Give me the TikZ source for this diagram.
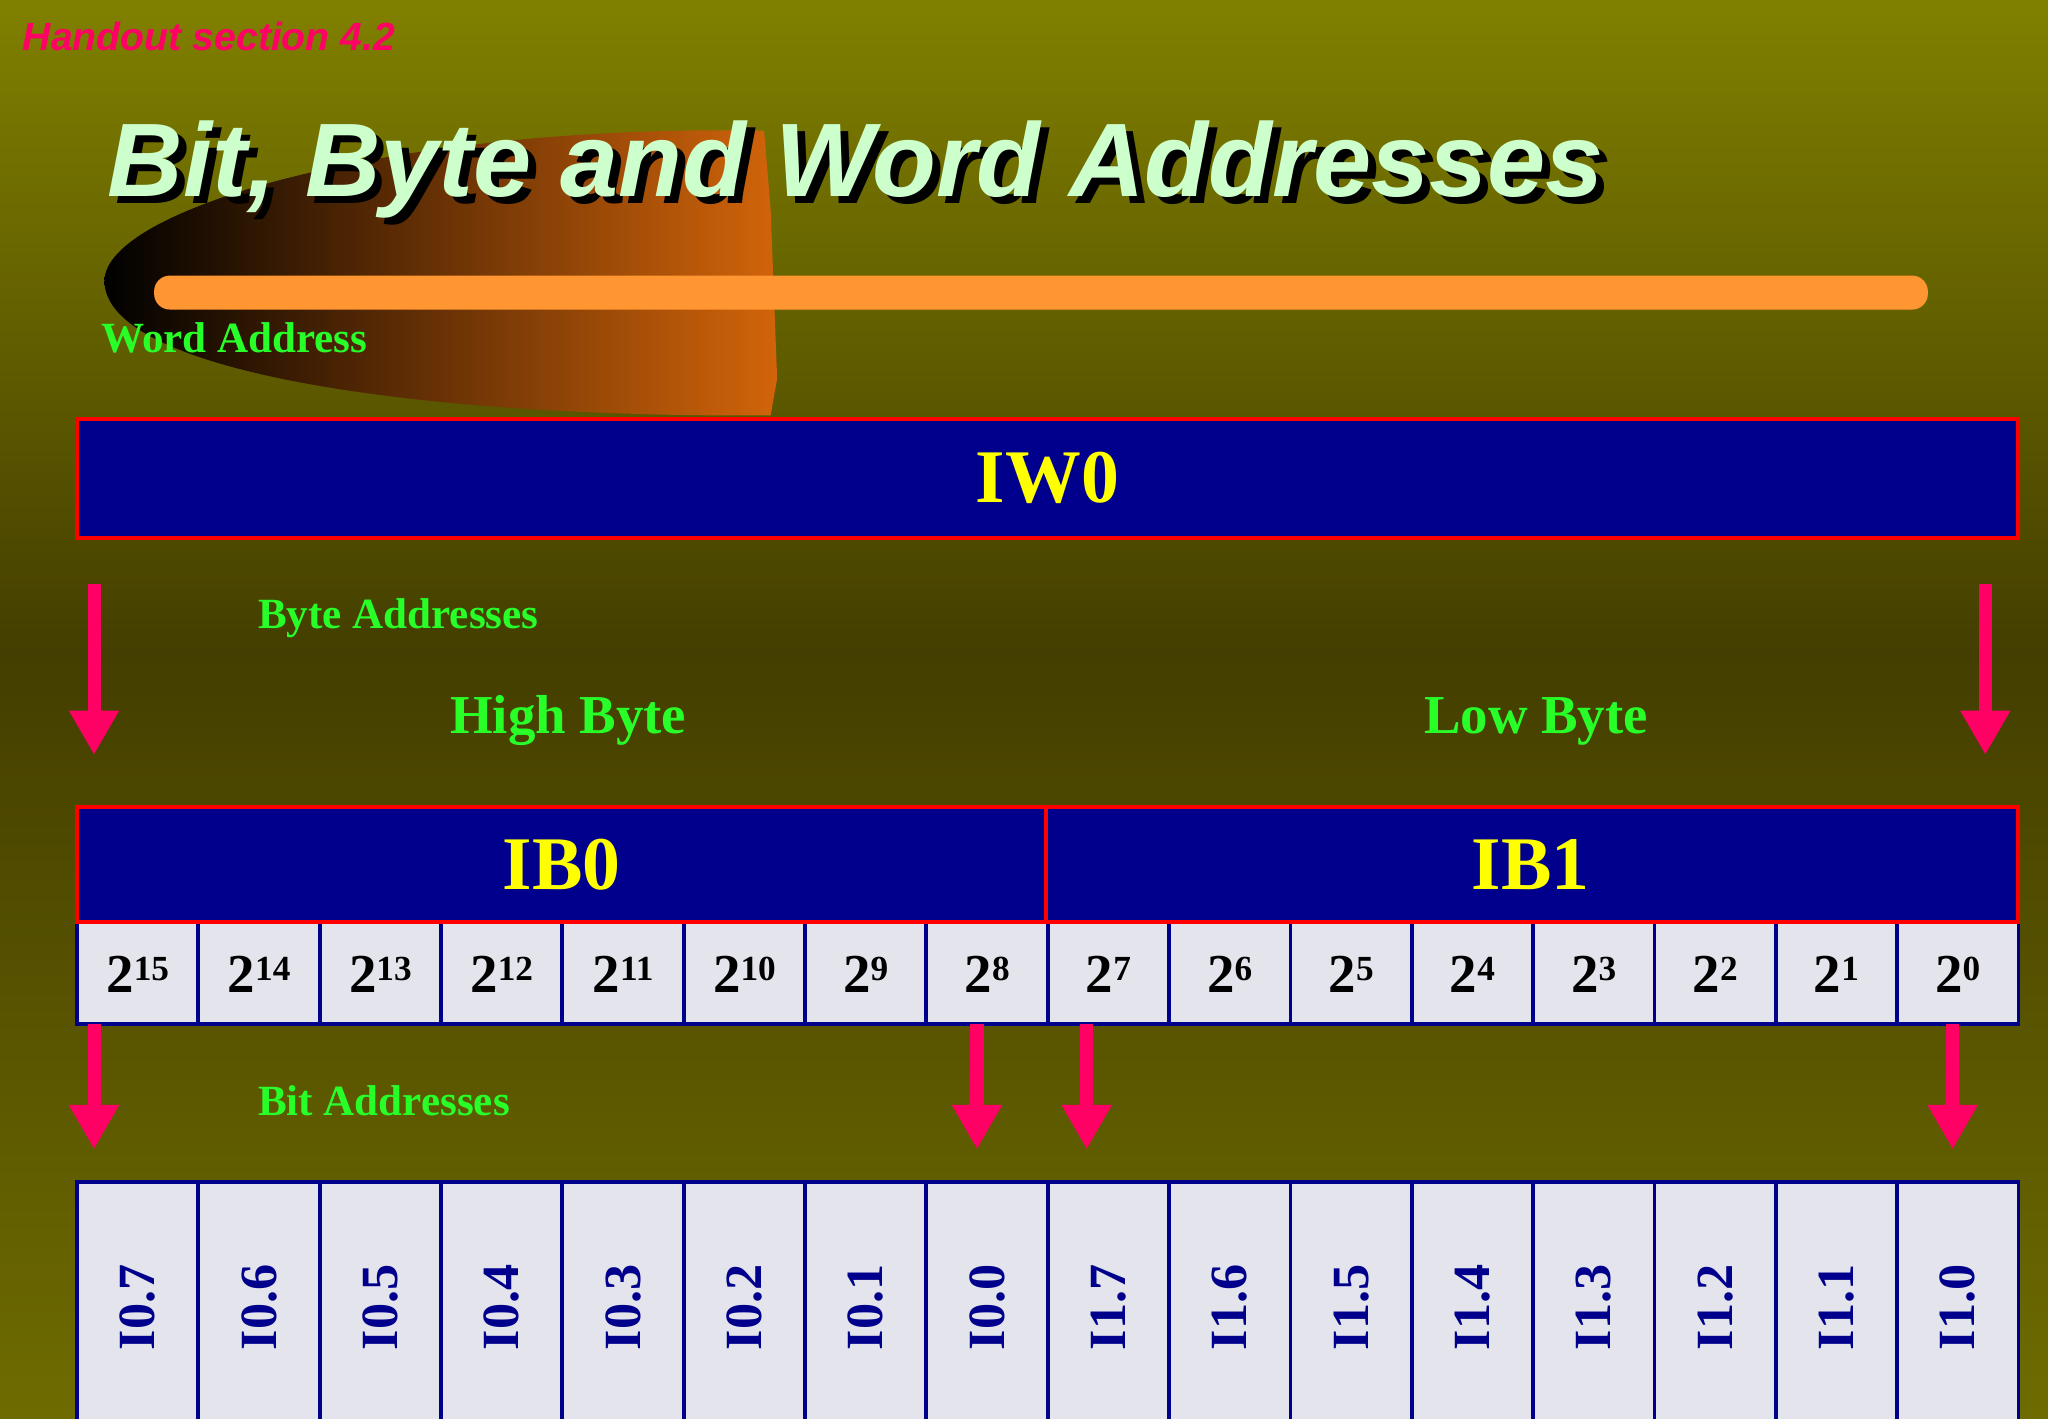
\documentclass[tikz,border=0pt]{standalone}
\usepackage{fontspec}
\setmainfont{Liberation Serif}
\newfontfamily\arialf{Liberation Sans}
\usetikzlibrary{arrows.meta}
\definecolor{olivetop}{RGB}{128,128,0}
\definecolor{olivemid}{RGB}{68,62,0}
\definecolor{olivebot}{RGB}{110,108,0}
\definecolor{navyc}{RGB}{0,0,140}
\definecolor{pinkc}{RGB}{255,0,100}
\definecolor{greenc}{RGB}{40,255,40}
\definecolor{titlec}{RGB}{205,255,205}
\definecolor{orangec}{RGB}{255,150,50}
\definecolor{swc}{RGB}{210,100,10}
\definecolor{cellc}{RGB}{228,228,236}
\definecolor{yellowc}{RGB}{255,255,0}
\tikzset{
 bigbox/.style={draw=red,line width=3pt,fill=navyc},
 cellbox/.style={draw=navyc,line width=3pt,fill=cellc},
 bigtxt/.style={text=yellowc,font=\bfseries\fontsize{58}{60}\selectfont},
 lbl/.style={text=greenc,font=\bfseries\fontsize{33}{35}\selectfont,anchor=west},
 hdr/.style={text=greenc,font=\bfseries\fontsize{42}{44}\selectfont},
 pw/.style={text=black,font=\bfseries\fontsize{42}{44}\selectfont},
 bitl/.style={text=navyc,font=\bfseries\fontsize{40}{42}\selectfont,rotate=90},
 parrow/.style={draw=pinkc,line width=10pt,-{Triangle[width=36pt,length=34pt]}}
}
\begin{document}
\begin{tikzpicture}[x=1pt,y=-1pt]
\useasboundingbox (0,0) rectangle (1568,1086);
\clip (0,0) rectangle (1568,1086);
\shade[top color=olivetop,bottom color=olivemid] (0,0) rectangle (1568,500);
\shade[top color=olivemid,bottom color=olivebot] (0,500) rectangle (1568,1086);
% swoosh
\shade[left color=black,right color=swc] (585,100) .. controls (300,95) and (80,160) .. (80,215) .. controls (80,285) and (320,320) .. (590,318) -- (595,290) -- (590,160) -- cycle;
\node[anchor=west,text=pinkc,font=\arialf\bfseries\itshape\fontsize{30}{32}\selectfont] (ho) at (14,28) {Handout section 4.2};
\node[anchor=west,text=black,font=\arialf\bfseries\itshape\fontsize{80}{82}\selectfont] (tts) at (85,135) {Bit, Byte and Word Addresses};
\node[anchor=west,text=titlec,font=\arialf\bfseries\itshape\fontsize{80}{82}\selectfont] (tt) at (79,130) {Bit, Byte and Word Addresses};
\fill[orangec,rounded corners=12pt] (118,211) rectangle (1476,237);
\node[lbl] (wa) at (74,259) {Word Address};
\draw[bigbox] (59,321) rectangle (1545,412);
\node[bigtxt] (iw) at (802,366) {IW0};
\coordinate (a1s) at (72,447); \coordinate (a1e) at (72,578);
\coordinate (a2s) at (1520,447); \coordinate (a2e) at (1520,578);
\draw[parrow] (a1s) -- (a1e);
\draw[parrow] (a2s) -- (a2e);
\node[lbl] (ba) at (194,473) {Byte Addresses};
\node[hdr] (hb) at (435,552) {High Byte};
\node[hdr] (lb) at (1176,552) {Low Byte};
\foreach \i in {0,...,15}{
  \pgfmathsetmacro{\xa}{59+\i*92.9}
  \pgfmathsetmacro{\xb}{59+(\i+1)*92.9}
  \pgfmathsetmacro{\xc}{59+(\i+0.5)*92.9}
  \pgfmathtruncatemacro{\ex}{15-\i}
  \draw[cellbox] (\xa,706) rectangle (\xb,784);
  \node[pw] (p\i) at (\xc,746) {2\raisebox{9pt}{\fontsize{27}{28}\selectfont\ex}};
  \draw[cellbox] (\xa,905) rectangle (\xb,1100);
  \pgfmathtruncatemacro{\by}{\i<8 ? 0 : 1}
  \pgfmathtruncatemacro{\bt}{7-mod(\i,8)}
  \node[bitl] (b\i) at (\xc,1001) {I\by.\bt};
}
\draw[bigbox] (59,618) rectangle (801,706);
\draw[bigbox] (801,618) rectangle (1545,706);
\node[bigtxt] (ib0) at (430,662) {IB0};
\node[bigtxt] (ib1) at (1172,662) {IB1};
\coordinate (c1s) at (72,784); \coordinate (c1e) at (72,880);
\coordinate (c2s) at (748,784); \coordinate (c2e) at (748,880);
\coordinate (c3s) at (832,784); \coordinate (c3e) at (832,880);
\coordinate (c4s) at (1495,784); \coordinate (c4e) at (1495,880);
\foreach \k in {1,...,4}{\draw[parrow] (c\k s) -- (c\k e);}
\node[lbl] (bta) at (194,843) {Bit Addresses};
\end{tikzpicture}
\end{document}
